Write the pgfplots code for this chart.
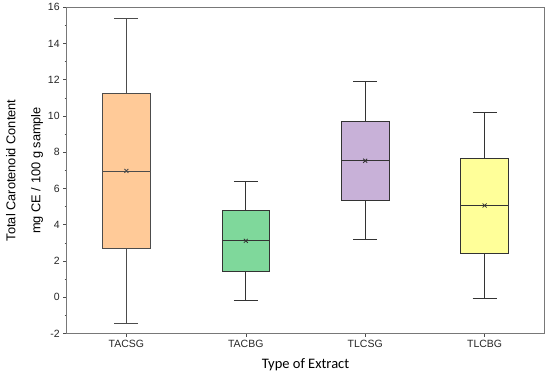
\documentclass[border=0pt]{standalone}
\usepackage{pgfplots}
\pgfplotsset{compat=1.18}
\usepgfplotslibrary{statistics}
\usepackage{fontspec}
\setmainfont{Liberation Sans}
\newfontfamily\calibri{Carlito}
\definecolor{cOrange}{RGB}{255,202,152}
\definecolor{cGreen}{RGB}{127,216,155}
\definecolor{cPurple}{RGB}{200,177,216}
\definecolor{cYellow}{RGB}{255,255,153}
\definecolor{frame}{RGB}{120,120,120}
\begin{document}
\begin{tikzpicture}
\useasboundingbox (-66.7bp,-45.6bp) rectangle (483.3bp,333.4bp);
\begin{axis}[
  scale only axis, width=477.6bp, height=326.1bp,
  xmin=0, xmax=4, ymin=-2, ymax=16,
  ytick={-2,0,2,4,6,8,10,12,14,16}, minor y tick num=1,
  xtick={0.5,1.5,2.5,3.5}, xticklabels={TACSG,TACBG,TLCSG,TLCBG},
  tick pos=left, tick align=outside,
  major tick length=3.5bp, minor tick length=2bp,
  axis line style={frame, line width=0.8pt},
  every tick/.style={black!70, line width=0.6pt},
  /pgf/number format/assume math mode=true,
  ticklabel style={font=\fontsize{10.5bp}{12bp}\selectfont, text=black!85},
  xlabel={\calibri Type of Extract},
  xlabel style={at={(axis description cs:0.5,-0.097)}, anchor=center, font=\fontsize{14.5bp}{16bp}\selectfont},
  ylabel={Total Carotenoid Content\\mg CE / 100 g sample},
  ylabel style={at={(axis description cs:-0.0884,0.5)}, anchor=center, align=center, font=\fontsize{12.8bp}{25bp}\selectfont},
  boxplot/draw direction=y,
  boxplot/box extend=0.4,
  boxplot/whisker extend=0.2,
  boxplot/every average/.style={/tikz/mark=x, /tikz/mark size=2.8bp, /tikz/mark options={draw=black, line width=0.6pt}},
  boxplot/every median/.style={/tikz/line width=0.9pt},
]
\addplot[boxplot prepared={draw position=0.5, lower whisker=-1.44, lower quartile=2.68, median=6.96, average=6.97, upper quartile=11.23, upper whisker=15.37}, fill=cOrange, draw=black!70, line width=0.9pt] coordinates {};
\addplot[boxplot prepared={draw position=1.5, lower whisker=-0.17, lower quartile=1.44, median=3.11, average=3.11, upper quartile=4.78, upper whisker=6.41}, fill=cGreen, draw=black!80, line width=0.8pt] coordinates {};
\addplot[boxplot prepared={draw position=2.5, lower whisker=3.2, lower quartile=5.32, median=7.53, average=7.53, upper quartile=9.72, upper whisker=11.9}, fill=cPurple, draw=black!80, line width=0.8pt] coordinates {};
\addplot[boxplot prepared={draw position=3.5, lower whisker=-0.09, lower quartile=2.43, median=5.06, average=5.06, upper quartile=7.65, upper whisker=10.19}, fill=cYellow, draw=black!80, line width=0.8pt] coordinates {};
\end{axis}
\end{tikzpicture}
\end{document}
